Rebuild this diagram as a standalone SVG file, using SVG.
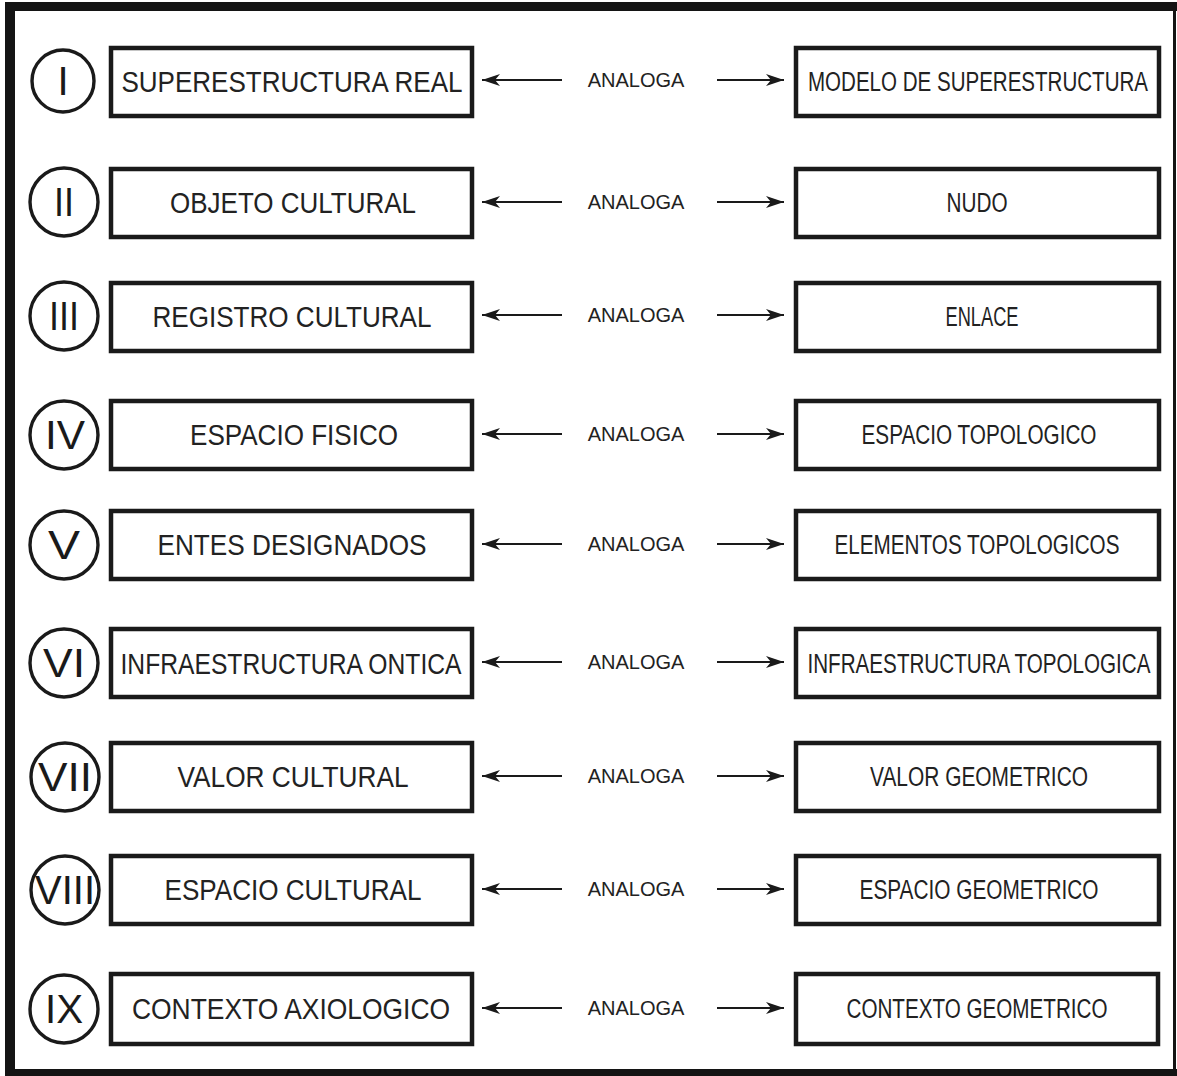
<svg xmlns="http://www.w3.org/2000/svg" width="1177" height="1076" viewBox="0 0 1177 1076">
<defs>
<style>
.box{fill:#fff;stroke:#1a1a1a;stroke-width:4.5}
.circ{fill:#fff;stroke:#1a1a1a;stroke-width:3.4}
.num{font-family:"Liberation Sans",Arial,sans-serif;font-size:40px;fill:#1a1a1a;text-anchor:middle}
.lt{font-family:"Liberation Sans",Arial,sans-serif;font-size:30px;fill:#222;text-anchor:middle}
.rt{font-family:"Liberation Sans",Arial,sans-serif;font-size:27px;fill:#222;text-anchor:middle}
.an{font-family:"Liberation Sans",Arial,sans-serif;font-size:20px;fill:#222;text-anchor:middle}
.ar{stroke:#1a1a1a;stroke-width:2.2;fill:none;marker-end:url(#ah)}
</style>
<marker id="ah" markerUnits="userSpaceOnUse" markerWidth="20" markerHeight="14" refX="18" refY="7" orient="auto">
<path d="M0,1 L18,7 L0,13 L5,7 Z" fill="#1a1a1a"/>
</marker>
</defs>
<rect width="1177" height="1076" fill="#fff"/>
<g id="frame" fill="#141414">
<rect x="5" y="2" width="1172" height="9"/>
<rect x="5" y="2" width="10" height="1074"/>
<rect x="1173" y="2" width="3" height="1074"/>
<rect x="5" y="1069" width="1172" height="7"/>
</g>
<g id="connectors">
<line class="ar" x1="562" y1="80" x2="482" y2="80"/><line class="ar" x1="717" y1="80" x2="784" y2="80"/>
<line class="ar" x1="562" y1="202" x2="482" y2="202"/><line class="ar" x1="717" y1="202" x2="784" y2="202"/>
<line class="ar" x1="562" y1="315" x2="482" y2="315"/><line class="ar" x1="717" y1="315" x2="784" y2="315"/>
<line class="ar" x1="562" y1="434" x2="482" y2="434"/><line class="ar" x1="717" y1="434" x2="784" y2="434"/>
<line class="ar" x1="562" y1="544" x2="482" y2="544"/><line class="ar" x1="717" y1="544" x2="784" y2="544"/>
<line class="ar" x1="562" y1="662" x2="482" y2="662"/><line class="ar" x1="717" y1="662" x2="784" y2="662"/>
<line class="ar" x1="562" y1="776" x2="482" y2="776"/><line class="ar" x1="717" y1="776" x2="784" y2="776"/>
<line class="ar" x1="562" y1="889" x2="482" y2="889"/><line class="ar" x1="717" y1="889" x2="784" y2="889"/>
<line class="ar" x1="562" y1="1008" x2="482" y2="1008"/><line class="ar" x1="717" y1="1008" x2="784" y2="1008"/>
<text class="an" x="636" y="87">ANALOGA</text>
<text class="an" x="636" y="209">ANALOGA</text>
<text class="an" x="636" y="322">ANALOGA</text>
<text class="an" x="636" y="441">ANALOGA</text>
<text class="an" x="636" y="551">ANALOGA</text>
<text class="an" x="636" y="669">ANALOGA</text>
<text class="an" x="636" y="783">ANALOGA</text>
<text class="an" x="636" y="896">ANALOGA</text>
<text class="an" x="636" y="1015">ANALOGA</text>
</g>
<g id="row1">
<circle class="circ" cx="63" cy="81" r="31"/><text class="num" x="63" y="95">I</text>
<rect class="box" x="111" y="48" width="361" height="68"/>
<text class="lt" x="292" y="92" textLength="341" lengthAdjust="spacingAndGlyphs">SUPERESTRUCTURA REAL</text>
<rect class="box" x="796" y="48" width="363" height="68"/>
<text class="rt" x="978" y="91" textLength="340" lengthAdjust="spacingAndGlyphs">MODELO DE SUPERESTRUCTURA</text>
</g>
<g id="row2">
<circle class="circ" cx="64" cy="202" r="34"/><text class="num" x="64" y="216" textLength="20" lengthAdjust="spacingAndGlyphs">II</text>
<rect class="box" x="111" y="169" width="361" height="68"/>
<text class="lt" x="293" y="213" textLength="246" lengthAdjust="spacingAndGlyphs">OBJETO CULTURAL</text>
<rect class="box" x="796" y="169" width="363" height="68"/>
<text class="rt" x="977" y="212" textLength="61" lengthAdjust="spacingAndGlyphs">NUDO</text>
</g>
<g id="row3">
<circle class="circ" cx="64" cy="316" r="34"/><text class="num" x="64" y="330" textLength="30" lengthAdjust="spacingAndGlyphs">III</text>
<rect class="box" x="111" y="283" width="361" height="68"/>
<text class="lt" x="292" y="327" textLength="279" lengthAdjust="spacingAndGlyphs">REGISTRO CULTURAL</text>
<rect class="box" x="796" y="283" width="363" height="68"/>
<text class="rt" x="982" y="326" textLength="73" lengthAdjust="spacingAndGlyphs">ENLACE</text>
</g>
<g id="row4">
<circle class="circ" cx="64" cy="435" r="34"/><text class="num" x="65" y="449" textLength="40" lengthAdjust="spacingAndGlyphs">IV</text>
<rect class="box" x="111" y="401" width="361" height="68"/>
<text class="lt" x="294" y="445" textLength="208" lengthAdjust="spacingAndGlyphs">ESPACIO FISICO</text>
<rect class="box" x="796" y="401" width="363" height="68"/>
<text class="rt" x="979" y="444" textLength="235" lengthAdjust="spacingAndGlyphs">ESPACIO TOPOLOGICO</text>
</g>
<g id="row5">
<circle class="circ" cx="64" cy="545" r="34"/><text class="num" x="64" y="559" textLength="32" lengthAdjust="spacingAndGlyphs">V</text>
<rect class="box" x="111" y="511" width="361" height="68"/>
<text class="lt" x="292" y="555" textLength="269" lengthAdjust="spacingAndGlyphs">ENTES DESIGNADOS</text>
<rect class="box" x="796" y="511" width="363" height="68"/>
<text class="rt" x="977" y="554" textLength="285" lengthAdjust="spacingAndGlyphs">ELEMENTOS TOPOLOGICOS</text>
</g>
<g id="row6">
<circle class="circ" cx="64" cy="663" r="34"/><text class="num" x="64" y="677" textLength="42" lengthAdjust="spacingAndGlyphs">VI</text>
<rect class="box" x="111" y="629" width="361" height="68"/>
<text class="lt" x="291" y="674" textLength="341" lengthAdjust="spacingAndGlyphs">INFRAESTRUCTURA ONTICA</text>
<rect class="box" x="796" y="629" width="363" height="68"/>
<text class="rt" x="979" y="673" textLength="343" lengthAdjust="spacingAndGlyphs">INFRAESTRUCTURA TOPOLOGICA</text>
</g>
<g id="row7">
<circle class="circ" cx="65" cy="777" r="34"/><text class="num" x="65" y="791" textLength="54" lengthAdjust="spacingAndGlyphs">VII</text>
<rect class="box" x="111" y="743" width="361" height="68"/>
<text class="lt" x="293" y="787" textLength="231" lengthAdjust="spacingAndGlyphs">VALOR CULTURAL</text>
<rect class="box" x="796" y="743" width="363" height="68"/>
<text class="rt" x="979" y="786" textLength="218" lengthAdjust="spacingAndGlyphs">VALOR GEOMETRICO</text>
</g>
<g id="row8">
<circle class="circ" cx="65" cy="890" r="34"/><text class="num" x="65" y="904" textLength="60" lengthAdjust="spacingAndGlyphs">VIII</text>
<rect class="box" x="111" y="856" width="361" height="68"/>
<text class="lt" x="293" y="900" textLength="257" lengthAdjust="spacingAndGlyphs">ESPACIO CULTURAL</text>
<rect class="box" x="796" y="856" width="363" height="68"/>
<text class="rt" x="979" y="899" textLength="239" lengthAdjust="spacingAndGlyphs">ESPACIO GEOMETRICO</text>
</g>
<g id="row9">
<circle class="circ" cx="64" cy="1009" r="34"/><text class="num" x="64" y="1023" textLength="38" lengthAdjust="spacingAndGlyphs">IX</text>
<rect class="box" x="111" y="974" width="361" height="70"/>
<text class="lt" x="291" y="1019" textLength="318" lengthAdjust="spacingAndGlyphs">CONTEXTO AXIOLOGICO</text>
<rect class="box" x="796" y="974" width="362" height="70"/>
<text class="rt" x="977" y="1018" textLength="261" lengthAdjust="spacingAndGlyphs">CONTEXTO GEOMETRICO</text>
</g>
</svg>
